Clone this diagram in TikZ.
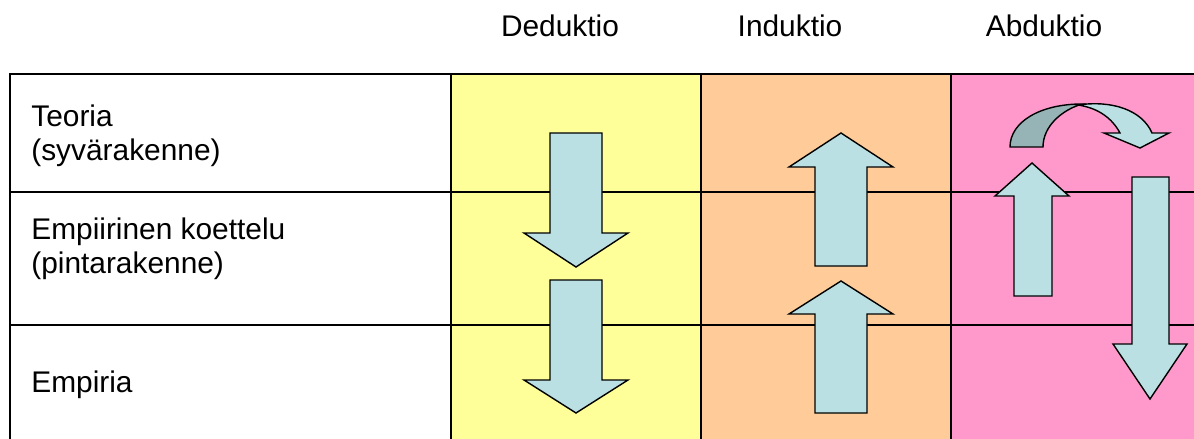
\documentclass[tikz,border=0pt]{standalone}
\usepackage{fontspec}
\setmainfont{Liberation Sans}
\definecolor{dedfill}{HTML}{FFFF99}
\definecolor{indfill}{HTML}{FFCC99}
\definecolor{abdfill}{HTML}{FF99CC}
\definecolor{arrowblue}{HTML}{BBE0E3}
\definecolor{arrowback}{HTML}{96B3B6}

\begin{document}
\begin{tikzpicture}[x=0.02cm,y=-0.02cm,
  lbl/.style = {font=\fontsize{17}{19.5}\selectfont, inner sep=0pt},
  rowlbl/.style = {lbl, align=left, anchor=west},
  grid/.style = {draw=black, line width=0.8pt},
  blk/.style = {draw=black, line width=0.8pt, fill=arrowblue, line join=miter}]
\useasboundingbox (0,0) rectangle (1194,439);

% column backgrounds
\fill[dedfill] (451,74) rectangle (701,439);
\fill[indfill] (701,74) rectangle (951,439);
\fill[abdfill] (951,74) rectangle (1194,439);

% table lines
\draw[grid] (1194,74) -- (10,74) -- (10,439);
\foreach \y in {192,325} \draw[grid] (10,\y) -- (1194,\y);
\foreach \x in {451,701,951} \draw[grid] (\x,74) -- (\x,439);

% column headers
\node[lbl, anchor=base] (ded) at (560,37) {Deduktio};
\node[lbl, anchor=base] (ind) at (790,37) {Induktio};
\node[lbl, anchor=base] (abd) at (1044,37) {Abduktio};

% row labels
\node[rowlbl] (teoria) at (31,135.5) {Teoria\\(syvärakenne)};
\node[rowlbl] (koe) at (31,248.5) {Empiirinen koettelu\\(pintarakenne)};
\node[lbl, anchor=base west] (emp) at (31,392) {Empiria};

% deduktio: down, down
\draw[blk] (550,133) -- (602,133) -- (602,233) -- (628,233) -- (576,267)
  -- (524,233) -- (550,233) -- cycle;
\draw[blk] (550,280) -- (602,280) -- (602,380) -- (628,380) -- (576,413)
  -- (524,380) -- (550,380) -- cycle;

% induktio: up, up
\draw[blk] (815,266) -- (867,266) -- (867,167) -- (893,167) -- (841,133)
  -- (789,167) -- (815,167) -- cycle;
\draw[blk] (815,413) -- (867,413) -- (867,314) -- (893,314) -- (841,281)
  -- (789,314) -- (815,314) -- cycle;

% abduktio: up, curve over, down
\draw[blk] (1014,296) -- (1052,296) -- (1052,196) -- (1069,196) -- (1032,163)
  -- (995,196) -- (1014,196) -- cycle;
\draw[blk, fill=arrowback] (1010,147) .. controls (1010,122) and (1040,104) .. (1082,104)
  .. controls (1062,110) and (1043,126) .. (1043,147) -- cycle;
\draw[blk] (1078,105) .. controls (1112,100) and (1142,110) .. (1152,133)
  -- (1169,133) -- (1140,148) -- (1104,133) -- (1120,133)
  .. controls (1112,118) and (1098,108) .. (1078,105) -- cycle;
\draw[blk] (1132,177) -- (1169,177) -- (1169,344) -- (1187,344) -- (1150,399)
  -- (1113,344) -- (1132,344) -- cycle;
\end{tikzpicture}
\end{document}
